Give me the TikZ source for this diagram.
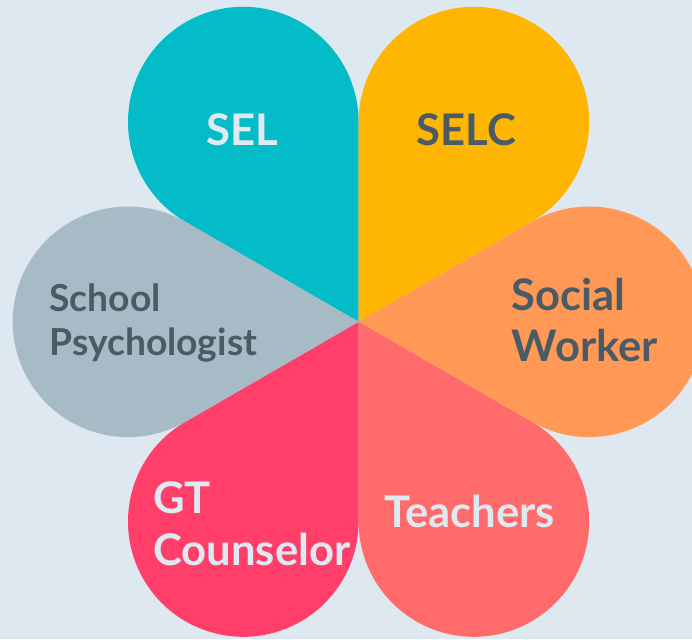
\documentclass[tikz,border=0pt]{standalone}
\usepackage{fontspec}
\setmainfont{Lato}
\usetikzlibrary{calc}
\definecolor{bg}{HTML}{DEE8F1}
\definecolor{cSEL}{HTML}{04BCC8}
\definecolor{cSELC}{HTML}{FFB602}
\definecolor{cSW}{HTML}{FF9955}
\definecolor{cT}{HTML}{FF6B6A}
\definecolor{cGT}{HTML}{FF3F6A}
\definecolor{cSP}{HTML}{A7BBC7}
\definecolor{tdark}{HTML}{4B5B66}
\definecolor{tlight}{HTML}{DFE9F2}
\tikzset{
  lbl/.style={anchor=base west, inner sep=0pt, align=left, font=\bfseries\fontsize{43.6}{51}\selectfont},
  lblsmall/.style={anchor=base west, inner sep=0pt, align=left, font=\bfseries\fontsize{37.2}{44}\selectfont},
}
\newcommand{\petal}[2]{%
  \fill[#2] (C) -- ($(C)+(#1:230.6)+(#1-120:115.3)$)
    arc[start angle=#1-120, end angle=#1+120, radius=115.3] -- cycle;}
\begin{document}
\begin{tikzpicture}[x=1pt,y=1pt]
\fill[bg] (0,0) rectangle (692,639);
\useasboundingbox (0,0) rectangle (692,639);
\coordinate (C) at (358.6,317.2);
\petal{120}{cSEL}
\petal{60}{cSELC}
\petal{0}{cSW}
\petal{-60}{cT}
\petal{-120}{cGT}
\petal{180}{cSP}
\node[lbl, text=tlight] (sel) at (206.7,493) {SEL};
\node[lbl, text=tdark] (selc) at (416.7,493) {SELC};
\node[lbl, text=tdark, font=\bfseries\fontsize{43.5}{51}\selectfont] (sw) at (511.7,277.3) {Social\\Worker};
\node[lbl, text=tlight] (teach) at (384,111) {Teachers};
\node[lbl, text=tlight, font=\bfseries\fontsize{43.6}{52}\selectfont] (gt) at (153,74) {GT\\Counselor};
\node[lblsmall, text=tdark] (sp) at (49.3,283.3) {School\\Psychologist};
\end{tikzpicture}
\end{document}
